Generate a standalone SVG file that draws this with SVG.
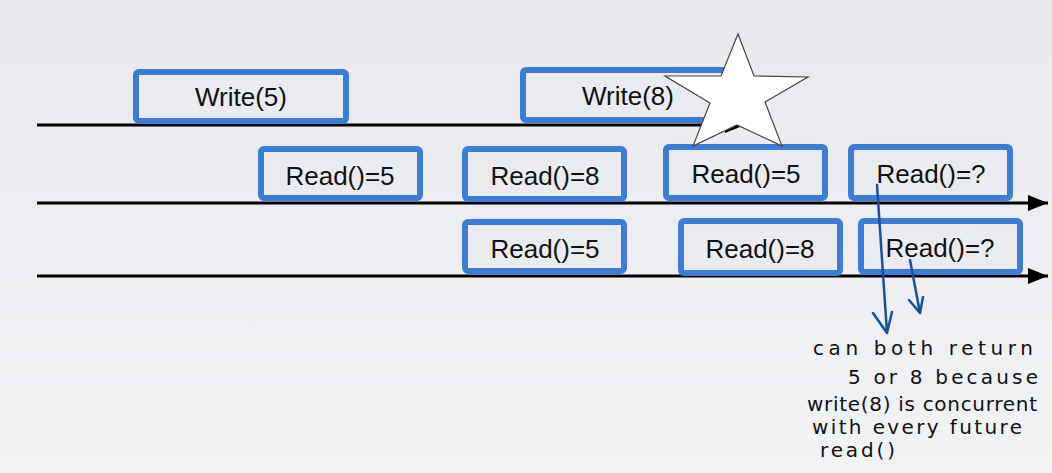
<svg xmlns="http://www.w3.org/2000/svg" width="1052" height="473" viewBox="0 0 1052 473">
  <defs>
    <linearGradient id="bg" x1="0" y1="0" x2="0" y2="1">
      <stop offset="0" stop-color="#e7e9ec"/>
      <stop offset="1" stop-color="#f1f2f4"/>
    </linearGradient>
    <marker id="arr" viewBox="0 0 20 16" refX="20" refY="8" markerWidth="20" markerHeight="16" markerUnits="userSpaceOnUse" orient="auto">
      <path d="M0,0 L20,8 L0,16 Z" fill="#000"/>
    </marker>
    <style>
      .box { fill: #e9ebee; stroke: #3b7dd6; stroke-width: 6; }
      .lbl { font-family: "Liberation Sans", Arial, sans-serif; font-size: 26px; fill: #111; text-anchor: middle; }
      .tl { stroke: #000; stroke-width: 3; fill: none; }
      .pen { stroke: #1a4f9a; stroke-width: 2.5; fill: none; stroke-linecap: round; stroke-linejoin: round; }
      .hand { font-family: "DejaVu Sans", "Liberation Sans", sans-serif; font-size: 20px; fill: #111; }
    </style>
  </defs>
  <rect x="0" y="0" width="1052" height="473" fill="url(#bg)"/>

  <g id="connectors">
    <line class="tl" x1="37" y1="125" x2="745" y2="125" marker-end="url(#arr)"/>
    <line class="tl" x1="37" y1="203" x2="1048" y2="203" marker-end="url(#arr)"/>
    <line class="tl" x1="37" y1="276" x2="1048" y2="276" marker-end="url(#arr)"/>
  </g>

  <g id="write5"><rect class="box" x="136" y="72" width="210" height="49" rx="3"/><text class="lbl" x="241" y="106">Write(5)</text></g>
  <g id="write8"><rect class="box" x="523" y="70" width="210" height="50" rx="3"/><text class="lbl" x="628" y="105">Write(8)</text></g>

  <g id="r2a"><rect class="box" x="261" y="149" width="159" height="49" rx="3"/><text class="lbl" x="340" y="185">Read()=5</text></g>
  <g id="r2b"><rect class="box" x="465" y="149" width="159" height="50" rx="3"/><text class="lbl" x="545" y="185">Read()=8</text></g>
  <g id="r2c"><rect class="box" x="666" y="147" width="159" height="51" rx="3"/><text class="lbl" x="746" y="183">Read()=5</text></g>
  <g id="r2d"><rect class="box" x="851" y="147" width="159" height="51" rx="3"/><text class="lbl" x="931" y="183">Read()=?</text></g>

  <g id="r3a"><rect class="box" x="465" y="222" width="159" height="49" rx="3"/><text class="lbl" x="545" y="258">Read()=5</text></g>
  <g id="r3b"><rect class="box" x="681" y="221" width="159" height="52" rx="3"/><text class="lbl" x="760" y="258">Read()=8</text></g>
  <g id="r3c"><rect class="box" x="861" y="221" width="159" height="51" rx="3"/><text class="lbl" x="940" y="257">Read()=?</text></g>

  <g id="star">
    <polygon points="738,34 754,76 808,77 765,102 782,146 737,125 693,146 710,103 665,76 721,76" fill="#fff" stroke="#444" stroke-width="1.2" stroke-linejoin="miter"/>
  </g>

  <g id="pen-arrows">
    <path class="pen" d="M877,185 L887,333 M873,313 L887,333 L892,312"/>
    <path class="pen" d="M910,260 L920,313 M909,300 L920,313 L923,297"/>
  </g>

  <g id="note">
    <text class="hand" x="813" y="355" textLength="220" lengthAdjust="spacing">can both return</text>
    <text class="hand" x="848" y="384" textLength="190" lengthAdjust="spacing">5 or 8 because</text>
    <text class="hand" x="807" y="411" textLength="230" lengthAdjust="spacing">write(8) is concurrent</text>
    <text class="hand" x="812" y="434" textLength="210" lengthAdjust="spacing">with every future</text>
    <text class="hand" x="820" y="457" textLength="75" lengthAdjust="spacing">read()</text>
  </g>
</svg>
